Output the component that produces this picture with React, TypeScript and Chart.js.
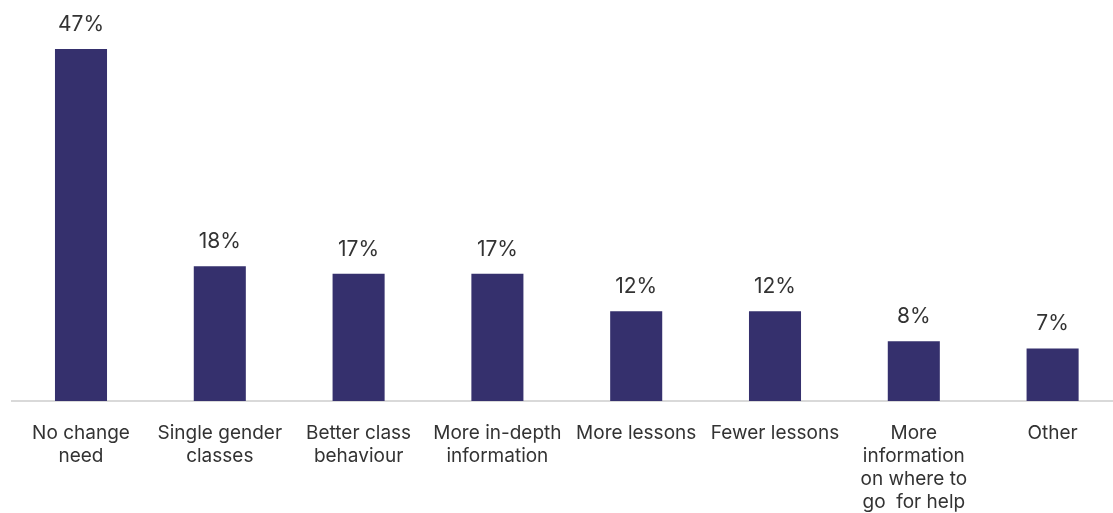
import React, { useEffect, useRef } from "react";
import { Chart, registerables } from "chart.js";

Chart.register(...registerables);

const categories: (string | string[])[] = [
  ["No change", "need"],
  ["Single gender", "classes"],
  ["Better class", "behaviour"],
  ["More in-depth", "information"],
  "More lessons",
  "Fewer lessons",
  ["More", "information", "on where to", "go  for help"],
  "Other",
];
const values: number[] = [47, 18, 17, 17, 12, 12, 8, 7];
const valueLabels: string[] = ["47%", "18%", "17%", "17%", "12%", "12%", "8%", "7%"];

const FONT = "Inter, 'Noto Sans', sans-serif";

const valueLabelPlugin = {
  id: "valueLabels",
  afterDatasetsDraw(chart: any) {
    const ctx = chart.ctx;
    const meta = chart.getDatasetMeta(0);
    ctx.save();
    ctx.font = `21px ${FONT}`;
    ctx.fillStyle = "#333333";
    ctx.textAlign = "center";
    ctx.textBaseline = "middle";
    meta.data.forEach((bar: any, i: number) => {
      ctx.fillText(valueLabels[i], bar.x, bar.y - 24.5);
    });
    ctx.restore();
  },
};

export default function App() {
  const ref = useRef<HTMLCanvasElement>(null);
  useEffect(() => {
    document.body.style.margin = "0";
    document.body.style.overflow = "hidden";
    const chart = new Chart(ref.current!, {
      type: "bar",
      data: {
        labels: categories,
        datasets: [
          {
            data: values,
            backgroundColor: "#35306d",
            borderWidth: 0,
            barPercentage: 0.375,
            categoryPercentage: 1,
          },
        ],
      },
      options: {
        animation: false,
        responsive: true,
        maintainAspectRatio: false,
        layout: { padding: { left: 11.6, right: 0, top: 26.6, bottom: 0 } },
        plugins: {
          legend: { display: false },
          tooltip: { enabled: false },
        },
        scales: {
          x: {
            grid: { display: false, drawTicks: false },
            border: { display: true, color: "#d9d9d9", width: 2 },
            ticks: {
              color: "#333333",
              font: { family: FONT, size: 19, lineHeight: 1.21 },
              padding: 21,
              maxRotation: 0,
              autoSkip: false,
            },
          },
          y: {
            display: false,
            min: 0,
            max: 50,
          },
        },
      },
      plugins: [valueLabelPlugin],
    });
    return () => chart.destroy();
  }, []);
  return (
    <div style={{ position: "absolute", left: 0, top: 0, width: 1113, height: 513, overflow: "hidden" }}>
      <div style={{ position: "relative", width: 1122, height: 535 }}>
        <canvas ref={ref} />
      </div>
    </div>
  );
}
